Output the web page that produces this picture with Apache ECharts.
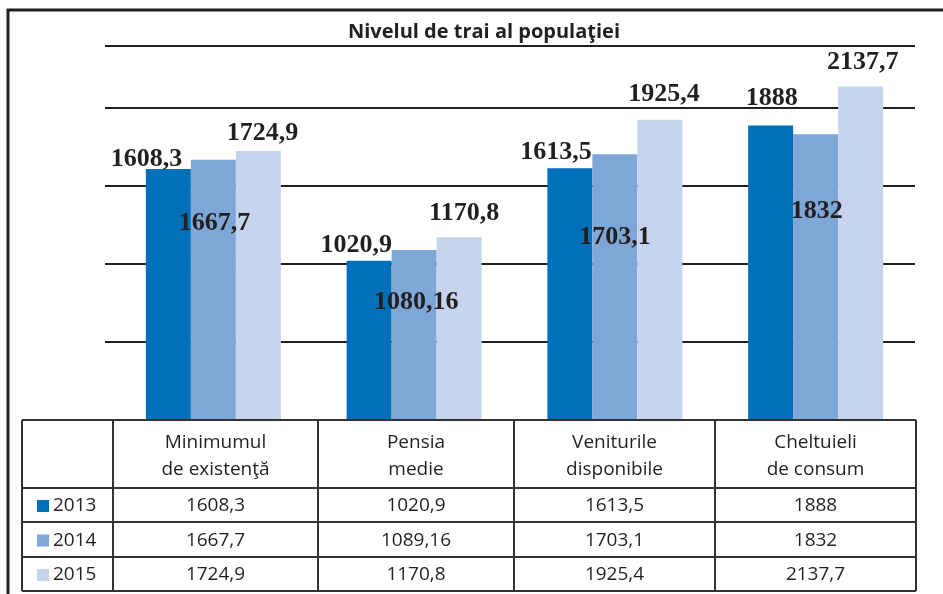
<!DOCTYPE html>
<html><head><meta charset="utf-8">
<script src="https://cdn.jsdelivr.net/npm/echarts@6/dist/echarts.min.js"></script>
<style>html,body{margin:0;padding:0;background:#fff}#c{width:943px;height:594px}</style>
</head><body><div id="c"></div>
<script>
// ---- data ----
const chartTitle = 'Nivelul de trai al populaţiei';
const categories = ['Minimumul\nde existenţă', 'Pensia\nmedie', 'Veniturile\ndisponibile', 'Cheltuieli\nde consum'];
const years = ['2013', '2014', '2015'];
const values2013 = [1608.3, 1020.9, 1613.5, 1888];
const values2014 = [1667.7, 1089.16, 1703.1, 1832];
const values2015 = [1724.9, 1170.8, 1925.4, 2137.7];
const barLabels2014 = ['1667,7', '1080,16', '1703,1', '1832']; // as printed over the bars
const yMin = 0, yMax = 2400, yInterval = 500;

// ---- styles ----
const colors = ['#0070BA', '#7EA7D8', '#C5D4EC'];
const labelOffsets = [
  [[-22, 8], [-13, 3], [-14, 2], [1, -9]],
  [[1, 81], [2, 70], [0, 101], [1, 95]],
  [[4, 0], [5, -6], [4, -7], [2, -6]]
];
const fmt = v => String(v).replace('.', ',');
const seriesValues = [values2013, values2014, values2015];
const seriesLabelText = [values2013.map(fmt), barLabels2014, values2015.map(fmt)];

const chart = echarts.init(document.getElementById('c'), null, {renderer: 'canvas'});

const series = years.map((y, si) => ({
  name: y, type: 'bar', xAxisIndex: 1, yAxisIndex: 1,
  barWidth: 45, barGap: '0%',
  itemStyle: {color: colors[si]},
  label: {
    show: true, position: 'top', distance: 5,
    fontFamily: 'Liberation Serif', fontWeight: 'bold', fontSize: 26, color: '#231f20',
    formatter: p => seriesLabelText[si][p.dataIndex]
  },
  data: seriesValues[si].map((v, i) => ({value: v, label: {offset: labelOffsets[si][i]}})),
  z: 3
}));

// ---- table (graphic) ----
const colX = [22, 113, 318, 514, 715, 916];
const rowY = [420, 488, 522, 557, 591];
const tableFont = 'Open Sans';
const g = [];
rowY.forEach(y => g.push({type: 'line', shape: {x1: colX[0], y1: y, x2: colX[5], y2: y}, style: {stroke: '#333', lineWidth: 2}, z: 10}));
colX.forEach(x => g.push({type: 'line', shape: {x1: x, y1: rowY[0], x2: x, y2: rowY[4]}, style: {stroke: '#333', lineWidth: 2}, z: 10}));
categories.forEach((c, i) => {
  g.push({type: 'text', x: (colX[i + 1] + colX[i + 2]) / 2, y: (rowY[0] + rowY[1]) / 2 + 2,
    style: {text: c, fontFamily: tableFont, fontSize: 19, lineHeight: 27, fill: '#231f20', align: 'center', verticalAlign: 'middle'}, z: 10});
});
years.forEach((y, r) => {
  const cy = (rowY[r + 1] + rowY[r + 2]) / 2 + 1;
  g.push({type: 'rect', shape: {x: 37, y: cy - 6, width: 12, height: 12}, style: {fill: colors[r]}, z: 10});
  g.push({type: 'text', x: 53, y: cy, style: {text: y, fontFamily: tableFont, fontSize: 19, fill: '#231f20', align: 'left', verticalAlign: 'middle'}, z: 10});
  seriesValues[r].forEach((v, i) => {
    g.push({type: 'text', x: (colX[i + 1] + colX[i + 2]) / 2, y: cy,
      style: {text: fmt(v), fontFamily: tableFont, fontSize: 19, fill: '#231f20', align: 'center', verticalAlign: 'middle'}, z: 10});
  });
});
// outer frame
g.push({type: 'polyline', shape: {points: [[8, 594], [8, 10], [943, 10]]}, style: {stroke: '#231f20', lineWidth: 3, fill: null}, z: 10});

const gridTop = 420 - (yMax - yMin) * 0.156;
chart.setOption({
  animation: false,
  backgroundColor: '#fff',
  title: {text: chartTitle, left: 479, top: 17, textAlign: 'center',
    textStyle: {fontFamily: 'Open Sans', fontWeight: 'bold', fontSize: 20, color: '#231f20'}},
  grid: [
    {left: 105, right: 28, top: gridTop, bottom: 174},
    {left: 113, right: 27, top: gridTop, bottom: 174}
  ],
  xAxis: [
    {gridIndex: 0, type: 'value', show: false},
    {gridIndex: 1, type: 'category', data: categories, axisLine: {show: false}, axisTick: {show: false}, axisLabel: {show: false}}
  ],
  yAxis: [
    {gridIndex: 0, type: 'value', min: yMin, max: yMax, interval: yInterval,
      axisLine: {show: false}, axisTick: {show: false}, axisLabel: {show: false},
      splitLine: {show: true, lineStyle: {color: '#231f20', width: 2}}},
    {gridIndex: 1, type: 'value', min: yMin, max: yMax, interval: yInterval, show: false, splitLine: {show: false}}
  ],
  series: series,
  graphic: g
});
</script></body></html>
